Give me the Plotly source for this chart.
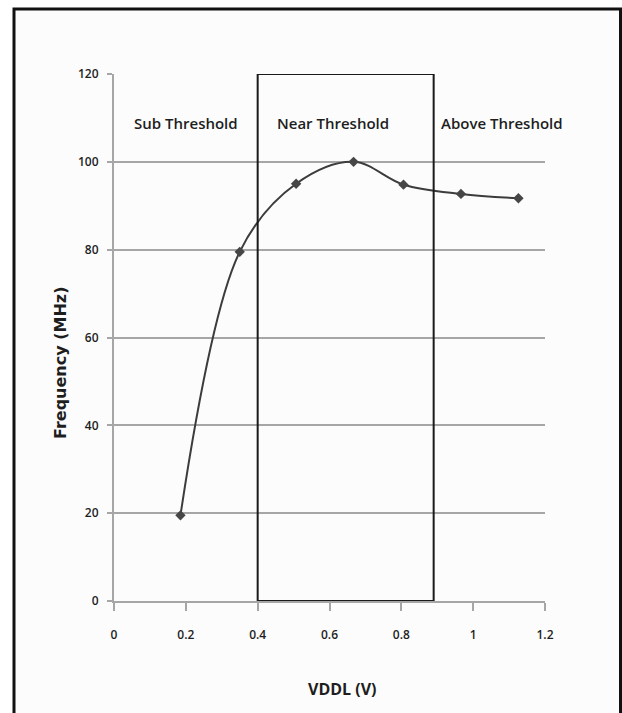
import plotly.graph_objects as go

# Operating frequency vs. low supply voltage
vddl = [0.185, 0.35, 0.507, 0.667, 0.806, 0.966, 1.126]
freq_mhz = [19.5, 79.5, 95.0, 100.0, 94.8, 92.7, 91.7]

region_names = ["Sub Threshold", "Near Threshold", "Above Threshold"]
region_x = [0.2, 0.61, 1.08]
near_bounds = [0.4, 0.89]

x_ticks = [0, 0.2, 0.4, 0.6, 0.8, 1, 1.2]
x_tick_text = ["0", "0.2", "0.4", "0.6", "0.8", "1", "1.2"]
y_ticks = [0, 20, 40, 60, 80, 100, 120]

W, H = 622, 713
L, R, T, B = 114, 77, 74, 112
plot_w = W - L - R
plot_h = H - T - B

def px_x(p):
    return (p - L) / plot_w

def px_y(p):
    return (H - B - p) / plot_h

FONT = "Open Sans, Arial, sans-serif"
GRID = "#a6a6a6"
INK = "#1e1e1e"

fig = go.Figure()
fig.add_trace(go.Scatter(
    x=vddl, y=freq_mhz, mode="lines+markers",
    line=dict(color="#3c3c3c", width=2, shape="spline", smoothing=1.0),
    marker=dict(symbol="diamond", size=8, color="#464646"),
    showlegend=False, cliponaxis=False,
))

shapes = [
    # frame of the figure
    dict(type="rect", xref="paper", yref="paper",
         x0=px_x(14), x1=px_x(620.5), y0=px_y(730), y1=px_y(9),
         line=dict(color="#111111", width=3), fillcolor="#fcfcfc", layer="below"),
    # near-threshold region
    dict(type="rect", xref="x", yref="y",
         x0=near_bounds[0], x1=near_bounds[1], y0=0, y1=120,
         line=dict(color="#1a1a1a", width=2), layer="above"),
]

annotations = [
    dict(x=xv, y=108.9, xref="x", yref="y", text=name, showarrow=False,
         font=dict(family=FONT, size=15, color=INK, weight=600))
    for name, xv in zip(region_names, region_x)
]
annotations.append(dict(
    x=px_x(342), y=px_y(689), xref="paper", yref="paper", text="<b>VDDL (V)</b>",
    xanchor="center", yanchor="middle",
    showarrow=False, font=dict(family=FONT, size=16, color=INK)))
annotations.append(dict(
    x=px_x(60), y=px_y(363), xref="paper", yref="paper",
    xanchor="center", yanchor="middle",
    text="<b>Frequency (MHz)</b>", textangle=-90, showarrow=False,
    font=dict(family="DejaVu Sans, Arial, sans-serif", size=16, color=INK)))

fig.update_layout(
    width=W, height=H, autosize=False,
    margin=dict(l=L, r=R, t=T, b=B),
    paper_bgcolor="white", plot_bgcolor="rgba(0,0,0,0)",
    shapes=shapes, annotations=annotations,
    xaxis=dict(range=[0, 1.2], tickvals=x_ticks, ticktext=x_tick_text,
               showgrid=False, zeroline=False, showline=True,
               linecolor=GRID, linewidth=2, ticks="outside", ticklen=8,
               tickcolor=GRID, tickwidth=2, ticklabelstandoff=14,
               tickfont=dict(family=FONT, size=12, color=INK, weight=600)),
    yaxis=dict(range=[0, 120], tickvals=y_ticks,
               showgrid=True, gridcolor=GRID, gridwidth=2, zeroline=False,
               showline=True, linecolor=GRID, linewidth=2,
               ticks="outside", ticklen=5, tickcolor=GRID, tickwidth=2,
               ticklabelstandoff=6,
               tickfont=dict(family=FONT, size=12, color=INK, weight=600)),
)

fig.write_html("out.html")
